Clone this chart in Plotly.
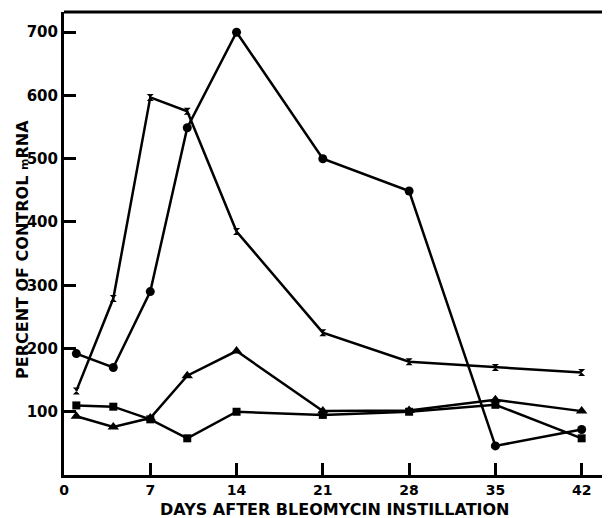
import plotly.graph_objects as go

days = [1, 4, 7, 10, 14, 21, 28, 35, 42]
circles = [192, 170, 290, 549, 700, 500, 449, 46, 72]
crosses = [133, 279, 597, 575, 385, 225, 179, 170, 162]
triangles = [93, 76, 90, 157, 196, 101, 102, 119, 101]
squares = [110, 108, 88, 58, 100, 95, 100, 111, 58]

x_ticks = [0, 7, 14, 21, 28, 35, 42]
y_ticks = [100, 200, 300, 400, 500, 600, 700]

fig = go.Figure()
series = [
    (circles, "circle", 9),
    (crosses, "hourglass", 7),
    (triangles, "triangle-up", 10),
    (squares, "square", 8),
]
for vals, sym, size in series:
    fig.add_trace(go.Scatter(
        x=days, y=vals, mode="lines+markers",
        line=dict(color="black", width=2.5),
        marker=dict(symbol=sym, size=size, color="black"),
        showlegend=False, cliponaxis=False,
    ))

yfont = dict(family="DejaVu Sans", color="black", size=15, weight="bold")
xfont = dict(family="DejaVu Sans", color="black", size=14, weight="bold")

# page has an 8px body margin; plot area targeted at page x 64..610, y 12..475
fig.update_layout(
    width=602, height=510,
    margin=dict(l=56, r=0, t=4, b=43),
    plot_bgcolor="white", paper_bgcolor="white",
    font=yfont,
    xaxis=dict(
        range=[0, 44.3], tickvals=x_ticks, ticktext=[str(v) for v in x_ticks],
        ticks="inside", ticklen=12, tickwidth=3, tickcolor="black",
        showline=True, linewidth=3, linecolor="black", automargin=False,
        showgrid=False, zeroline=False, tickfont=xfont, ticklabelstandoff=0,
    ),
    yaxis=dict(
        range=[0, 732], tickvals=y_ticks, ticktext=[str(v) for v in y_ticks],
        ticks="inside", ticklen=12, tickwidth=3, tickcolor="black",
        showline=True, linewidth=3, linecolor="black", automargin=False,
        showgrid=False, zeroline=False, tickfont=yfont, ticklabelstandoff=0,
    ),
    shapes=[dict(type="line", xref="paper", yref="paper", x0=0, x1=1, y0=1, y1=1,
                 line=dict(color="black", width=3))],
    annotations=[
        dict(text="DAYS AFTER BLEOMYCIN INSTILLATION", xref="paper", yref="paper",
             x=(335 - 64) / 546, y=-(509 - 475) / 463, showarrow=False,
             font=dict(family="DejaVu Sans", size=16, color="black", weight="bold"),
             xanchor="center", yanchor="middle"),
        dict(text="PERCENT OF CONTROL <span style='font-size:11px'>m</span>RNA",
             xref="paper", yref="paper",
             x=-(64 - 22) / 546, y=(475 - 250) / 463, showarrow=False, textangle=-90,
             font=dict(family="DejaVu Sans", size=16, color="black", weight="bold"),
             xanchor="center", yanchor="middle"),
    ],
)

fig.write_html("out.html")
